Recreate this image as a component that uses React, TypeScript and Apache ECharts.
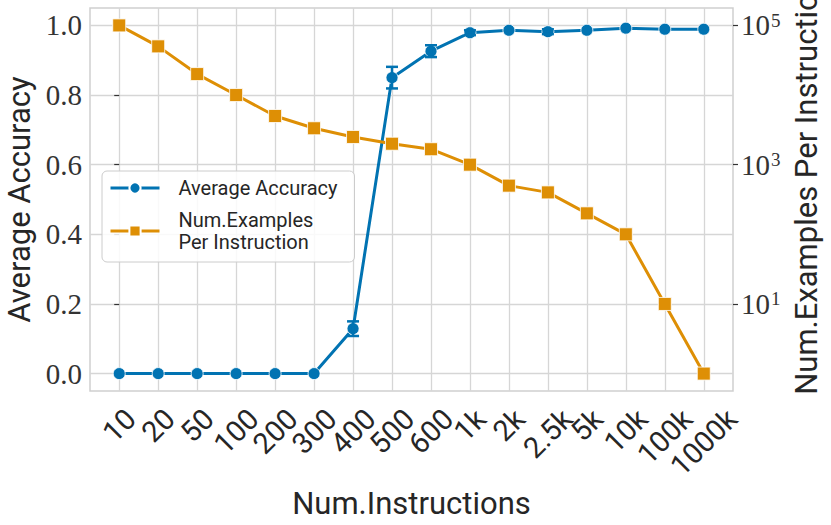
import React, { useEffect, useRef } from "react";
import * as echarts from "echarts";

const categories = ["10", "20", "50", "100", "200", "300", "400", "500", "600", "1k", "2k", "2.5k", "5k", "10k", "100k", "1000k"];
const accuracy = [0, 0, 0, 0, 0, 0, 0.129, 0.85, 0.926, 0.979, 0.986, 0.982, 0.986, 0.992, 0.989, 0.989];
const accuracyErr = [0, 0, 0, 0, 0, 0, 0.021, 0.031, 0.017, 0.007, 0, 0.007, 0, 0, 0, 0];
const examplesPerInstruction = [100000, 50000, 20000, 10000, 5000, 3333, 2500, 2000, 1667, 1000, 500, 400, 200, 100, 10, 1];
const accuracyTicks = [0, 0.2, 0.4, 0.6, 0.8, 1.0];
const exampleTicks = [10, 1000, 100000];

const BLUE = "#0173b2";
const ORANGE = "#de8f05";
const TEXT = "#262626";
const GRID = "#d6d6d6";
const SANS = "Roboto";
const SERIF = "Liberation Serif";
const XLABEL_SIZE = 29;
const X_MIN = -0.75;
const X_MAX = categories.length - 1 + 0.75;

function measure(text: string, font: string): number {
  const c = document.createElement("canvas");
  const ctx = c.getContext("2d");
  if (!ctx) return text.length * 16;
  ctx.font = font;
  return ctx.measureText(text).width;
}

export default function App() {
  const ref = useRef<HTMLDivElement>(null);
  useEffect(() => {
    if (!ref.current) return;
    const chart = echarts.init(ref.current, null, { renderer: "svg" });
    const idx = categories.map((_, i) => i);
    // empty sentinel labels at the axis ends so ECharts' min/max overlap check never hides a real label
    const labelValues = [X_MIN, ...idx, X_MAX];
    const errData = accuracy
      .map((v, i) => [i, v - accuracyErr[i], v + accuracyErr[i], accuracyErr[i]])
      .filter((d) => d[3] > 0);
    // matplotlib-style centred rotated labels: spacer tokens keep each label's box centred on its tick
    const xRich: Record<string, any> = {};
    categories.forEach((c, i) => {
      const L = measure(c, `${XLABEL_SIZE}px ${SANS}`);
      xRich["l" + i] = { fontFamily: SANS, fontSize: XLABEL_SIZE, color: TEXT };
      xRich["t" + i] = { height: L / 2, lineHeight: L / 2, fontSize: 1 };
      xRich["r" + i] = { width: L / 2, fontSize: XLABEL_SIZE };
    });
    chart.setOption({
      animation: false,
      grid: {
        left: 90,
        right: 98,
        top: 8,
        bottom: 134,
        show: true,
        borderColor: "#cfcfcf",
        borderWidth: 1.5,
        containLabel: false,
        outerBoundsMode: "none",
      },
      legend: {
        data: ["Average Accuracy", "Num.Examples\nPer Instruction"],
        orient: "vertical",
        left: 102,
        top: 171,
        itemWidth: 49,
        itemHeight: 14,
        itemGap: 10,
        padding: [6, 17, 9, 7],
        backgroundColor: "rgba(255,255,255,0.85)",
        borderColor: "#cccccc",
        borderWidth: 1,
        borderRadius: 5,
        lineStyle: { width: 3 },
        textStyle: {
          fontFamily: SANS,
          fontSize: 20,
          color: TEXT,
          lineHeight: 22,
          padding: [0, 0, 0, 14],
        },
      },
      xAxis: {
        type: "value",
        min: X_MIN,
        max: X_MAX,
        name: "Num.Instructions",
        nameLocation: "middle",
        nameGap: 92,
        nameTextStyle: { fontFamily: SANS, fontSize: 31, color: TEXT },
        axisLine: { show: false },
        axisTick: { show: false, customValues: idx },
        axisLabel: {
          customValues: labelValues,
          hideOverlap: false,
          formatter: (v: number) => {
            const i = Math.round(v);
            if (Math.abs(v - i) > 1e-6 || i < 0 || i >= categories.length) return "";
            return `{t${i}|}\n{l${i}|${categories[i]}}{r${i}|}`;
          },
          rotate: 45,
          align: "center",
          verticalAlign: "middle",
          margin: 23,
          rich: xRich,
        },
        splitLine: { show: true, lineStyle: { color: GRID, width: 1.3 } },
      },
      yAxis: [
        {
          type: "value",
          min: -0.05,
          max: 1.05,
          name: "Average Accuracy",
          nameLocation: "middle",
          nameGap: 52,
          nameTextStyle: { fontFamily: SANS, fontSize: 31, color: TEXT },
          axisLine: { show: false },
          axisTick: { show: true, length: 5, customValues: accuracyTicks, lineStyle: { color: "#333", width: 1.2 } },
          axisLabel: {
            customValues: accuracyTicks,
            formatter: (v: number) => v.toFixed(1),
            fontFamily: SERIF,
            fontSize: 29,
            color: "#333",
            margin: 8,
          },
          splitLine: { show: true, lineStyle: { color: GRID, width: 1.3 } },
        },
        {
          type: "log",
          logBase: 10,
          min: Math.pow(10, -0.25),
          max: Math.pow(10, 5.25),
          position: "right",
          name: "Num.Examples Per Instruction",
          nameLocation: "middle",
          nameGap: 54,
          nameRotate: 90,
          nameTextStyle: { fontFamily: SANS, fontSize: 31, color: TEXT, padding: [0, 0, 0, 28] },
          axisLine: { show: false },
          axisTick: { show: true, length: 5, customValues: exampleTicks, lineStyle: { color: "#333", width: 1.2 } },
          axisLabel: {
            customValues: exampleTicks,
            formatter: (v: number) => `{b|10}{s|${Math.round(Math.log10(v))}}`,
            margin: 8,
            rich: {
              b: { fontFamily: SERIF, fontSize: 29, color: "#333" },
              s: { fontFamily: SERIF, fontSize: 19, color: "#333", verticalAlign: "top", padding: [0, 0, 0, 1] },
            },
          },
          splitLine: { show: false },
        },
      ],
      series: [
        {
          name: "Average Accuracy",
          type: "line",
          yAxisIndex: 0,
          data: accuracy.map((v, i) => [i, v]),
          symbol: "circle",
          symbolSize: 12,
          lineStyle: { color: BLUE, width: 3 },
          itemStyle: { color: BLUE, borderColor: "#ffffff", borderWidth: 0.8 },
          z: 2,
        },
        {
          name: "err",
          type: "custom",
          yAxisIndex: 0,
          data: errData,
          z: 3,
          renderItem: (params: any, api: any) => {
            const x = api.value(0);
            const lo = api.coord([x, api.value(1)]);
            const hi = api.coord([x, api.value(2)]);
            const w = 6;
            const style = { stroke: BLUE, lineWidth: 2.5 };
            return {
              type: "group",
              children: [
                { type: "line", shape: { x1: lo[0], y1: lo[1], x2: hi[0], y2: hi[1] }, style },
                { type: "line", shape: { x1: lo[0] - w, y1: lo[1], x2: lo[0] + w, y2: lo[1] }, style },
                { type: "line", shape: { x1: hi[0] - w, y1: hi[1], x2: hi[0] + w, y2: hi[1] }, style },
              ],
            };
          },
        },
        {
          name: "Num.Examples\nPer Instruction",
          type: "line",
          yAxisIndex: 1,
          data: examplesPerInstruction.map((v, i) => [i, v]),
          symbol: "rect",
          symbolSize: 13,
          lineStyle: { color: ORANGE, width: 3 },
          itemStyle: { color: ORANGE, borderColor: "#ffffff", borderWidth: 0.8 },
          z: 4,
        },
      ],
    });
    return () => chart.dispose();
  }, []);
  return <div ref={ref} style={{ width: 831, height: 525, position: "absolute", left: 0, top: 0 }} />;
}
